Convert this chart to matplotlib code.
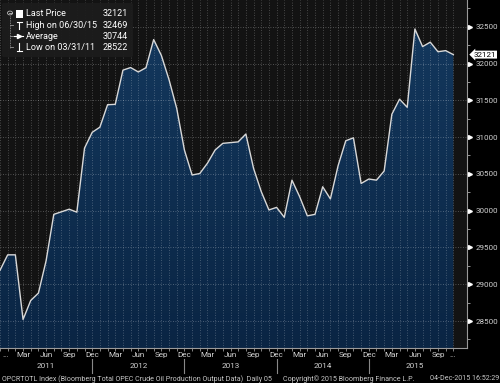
import matplotlib
matplotlib.use('Agg')
import matplotlib.pyplot as plt
import matplotlib.transforms as mtransforms
from matplotlib.colors import LinearSegmentedColormap
from matplotlib.patches import FancyBboxPatch, Circle
from matplotlib.lines import Line2D
import numpy as np

plt.rcParams['font.family'] = ['Roboto', 'DejaVu Sans']

# ---------------- data (monthly, Dec 2010 .. Nov 2015) ----------------
start_month = 'Dec 2010'
values = [29190, 29400, 29400, 28522, 28780, 28880, 29320, 29950, 29985, 30020,
          29980, 30850, 31065, 31135, 31440, 31445, 31910, 31945, 31885, 31943,
          32325, 32110, 31780, 31390, 30825, 30485, 30505, 30645, 30825, 30915,
          30925, 30935, 31042, 30575, 30260, 30010, 30045, 29910, 30415, 30190,
          29930, 29950, 30325, 30160, 30610, 30950, 30990, 30370, 30430, 30415,
          30540, 31310, 31515, 31405, 32469, 32230, 32290, 32160, 32175, 32121]
month_names = ['Mar', 'Jun', 'Sep', 'Dec']
years = ['2011', '2012', '2013', '2014', '2015']
yticks = [28500, 29000, 29500, 30000, 30500, 31000, 31500, 32000, 32500]
legend_labels = ['Last Price', 'High on 06/30/15', 'Average', 'Low on 03/31/11']
legend_values = ['32121', '32469', '30744', '28522']
last_label = '32121'
footer_left = 'OPCRTOTL Index (Bloomberg Total OPEC Crude Oil Production Output Data)  Daily 05'
footer_mid = 'Copyright\u00a9 2015 Bloomberg Finance L.P.'
footer_right = '04-Dec-2015 16:52:29'

W, H = 500, 383
fig = plt.figure(figsize=(W / 100, H / 100), dpi=100, facecolor='black')
ax = fig.add_axes([0, 35 / H, 467 / W, 348 / H])
ax.set_facecolor('#131313')

x = np.arange(len(values))
XL = (0.05, 60.78)
YL = (28134, 32863)

# gradient fill under the curve
grad = np.linspace(0, 1, 256).reshape(-1, 1)
cmap = LinearSegmentedColormap.from_list('g', ['#0a2544', '#14395f'])
im = ax.imshow(grad, extent=[XL[0], XL[1], YL[0], YL[1]], aspect='auto',
               cmap=cmap, origin='lower', zorder=0.5)
poly = ax.fill_between(x, values, YL[0], facecolor='none', edgecolor='none')
im.set_clip_path(poly.get_paths()[0], ax.transData)
ax.plot(x, values, color='#d8d8d8', lw=1.0, zorder=3)

ax.set_xlim(*XL)
ax.set_ylim(*YL)

# grid
ax.set_xticks([])
ax.set_xticks(x, minor=True)
ax.yaxis.tick_right()
ax.set_yticks(yticks)
ax.set_yticklabels([str(v) for v in yticks])
ax.set_yticks(np.arange(28250, 32900, 250), minor=True)
ax.grid(which='minor', axis='x', color='white', alpha=0.3, ls=(0, (1, 2)), lw=0.6)
ax.grid(which='major', axis='y', color='white', alpha=0.35, ls=(0, (1, 2)), lw=0.6)
ax.tick_params(axis='y', which='major', length=2, color='#aaaaaa', pad=4.5,
               labelsize=5.8, labelcolor='#d0d0d0')
ax.tick_params(axis='y', which='minor', length=2, color='#aaaaaa')
ax.tick_params(axis='x', which='minor', length=2.5, color='#999999', labelbottom=False)

for s in ['left', 'top']:
    ax.spines[s].set_visible(False)
for s in ['right', 'bottom']:
    ax.spines[s].set_color('#9a9a9a')
    ax.spines[s].set_linewidth(0.8)

# arrows at y ticks
ty = mtransforms.blended_transform_factory(ax.transAxes, ax.transData)
ax.plot([1.007] * len(yticks), yticks, marker='>', ls='none', ms=2.8,
        color='white', transform=ty, clip_on=False, zorder=4)

# last price tag
ax.text(1.014, values[-1], last_label, transform=ty, fontsize=5.8, color='black',
        ha='left', va='center', zorder=6, clip_on=False,
        bbox=dict(boxstyle='larrow,pad=0.12', fc='white', ec='none'))

# month / year labels
tf = mtransforms.blended_transform_factory(ax.transData, fig.transFigure)
for k, idx in enumerate(range(3, 58, 3)):
    ax.text(idx, 1 - 355 / H, month_names[k % 4], transform=tf, ha='center',
            va='center', fontsize=5.9, color='#d0d0d0', clip_on=False)
for idx in (0.75, 58.9):
    ax.text(idx, 1 - 355 / H, '...', transform=tf, ha='center', va='center',
            fontsize=5.9, color='#d0d0d0', clip_on=False)
for k, yr in enumerate(years):
    ax.text(6 + 12 * k, 1 - 366 / H, yr, transform=tf, ha='center', va='center',
            fontsize=5.9, color='#d0d0d0', clip_on=False)
for idx in (12, 24, 36, 48):
    ax.plot([idx, idx], [1 - 359 / H, 1 - 373 / H], transform=tf, color='#888888',
            lw=0.8, clip_on=False)

# footer
fig.text(2 / W, 1 - 379 / H, footer_left, fontsize=5.1, color='#c8c8c8', ha='left', va='center')
fig.text(283 / W, 1 - 379 / H, footer_mid, fontsize=5.1, color='#c8c8c8', ha='left', va='center')
fig.text(499 / W, 1 - 379 / H, footer_right, fontsize=5.1, color='#c8c8c8', ha='right', va='center')

# legend
def P(px, py):
    return px / W, 1 - py / H

bx, by = P(2, 57)
box = FancyBboxPatch((bx, by), 131 / W, 54 / H, boxstyle='round,pad=0,rounding_size=0.004',
                     transform=fig.transFigure, fc='#1c1c1c', ec='none', alpha=0.95, zorder=10)
fig.patches.append(box)
rows = [14, 25, 36.3, 47.3]
for lab, val, ry in zip(legend_labels, legend_values, rows):
    fig.text(*P(26, ry), lab, fontsize=6.5, color='white', ha='left', va='center', zorder=11)
    fig.text(*P(128, ry), val, fontsize=6.5, color='white', ha='right', va='center', zorder=11)

def fl(xs, ys, **kw):
    fx = [a / W for a in xs]
    fy = [1 - b / H for b in ys]
    fig.lines.append(Line2D(fx, fy, transform=fig.transFigure, zorder=12, **kw))

# tree
fig.patches.append(Circle(P(10, 13), 2.5 / W, transform=fig.transFigure, fc='none',
                          ec='#bbbbbb', lw=0.6, zorder=12))
fl([8.5, 11.5], [13, 13], color='#bbbbbb', lw=0.6)
fl([10, 10], [16, 47.5], color='#999999', lw=0.6, ls=(0, (1, 1)))
for ry in rows[1:]:
    fl([10, 13], [ry, ry], color='#999999', lw=0.6)
# icons
fig.patches.append(FancyBboxPatch(P(15.8, 17.8), 7 / W, 7.5 / H, boxstyle='square,pad=0',
                                  transform=fig.transFigure, fc='white', ec='none', zorder=12))
fl([19.3, 19.3], [21.5, 29], color='white', lw=0.8)
fl([16.5, 22], [21.5, 21.5], color='white', lw=0.8)
fl([14, 23], [36.3, 36.3], color='white', lw=0.8)
fig.lines.append(Line2D([18.8 / W], [1 - 36.3 / H], marker='>', ms=3, color='white',
                        transform=fig.transFigure, zorder=12))
fl([19.3, 19.3], [43, 50.5], color='white', lw=0.8)
fl([16.5, 22], [50.5, 50.5], color='white', lw=0.8)

fig.savefig('out.png', dpi=100, facecolor='black')
